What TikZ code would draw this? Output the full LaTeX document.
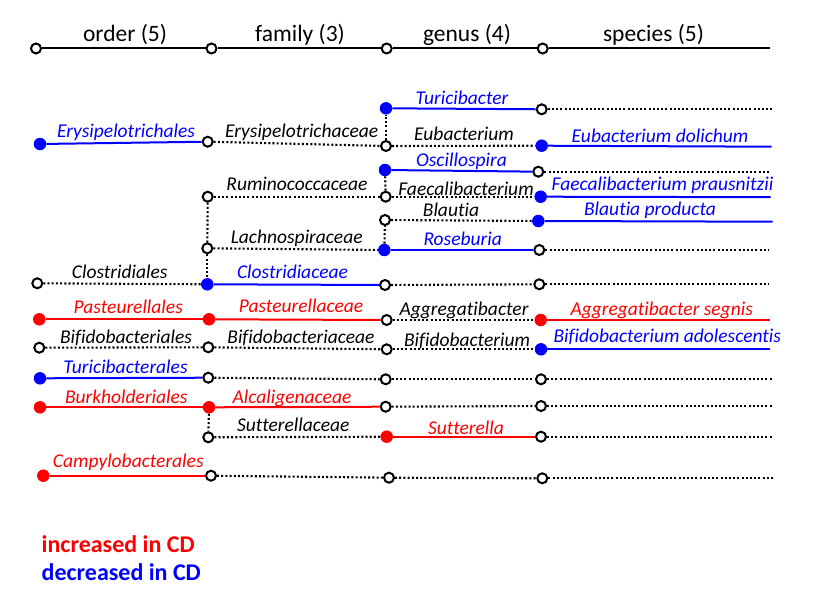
\documentclass[tikz,border=0pt]{standalone}
\usepackage{fontspec}
\setmainfont{Carlito}[Ligatures=NoCommon]
\definecolor{cb}{RGB}{0,0,255}
\definecolor{cr}{RGB}{255,0,0}
\begin{document}
\begin{tikzpicture}[x=1pt,y=-1pt,
  op/.style={circle, draw=black, fill=white, line width=2pt, inner sep=0pt, minimum size=10pt},
  fb/.style={circle, fill=cb, inner sep=0pt, minimum size=12.5pt},
  fr/.style={circle, fill=cr, inner sep=0pt, minimum size=12.5pt},
  lb/.style={line width=2pt, draw=cb},
  lr/.style={line width=2pt, draw=cr},
  lk/.style={line width=2pt, draw=black},
  dt/.style={line width=2.1pt, draw=black, dash pattern=on 2pt off 2.2pt},
  lab/.style={font=\fontsize{19.5}{20}\selectfont\itshape, anchor=base, inner sep=0pt},
  hd/.style={font=\fontsize{23.5}{24}\selectfont, anchor=base, inner sep=0pt},
  lg/.style={font=\fontsize{24}{25}\selectfont\bfseries, anchor=base west, inner sep=0pt}]
\useasboundingbox (0,0) rectangle (828,602);
% header
\node[op] (h1) at (36,48.5) {};
\node[op] (h2) at (211.5,48.5) {};
\node[op] (h3) at (386.7,48.5) {};
\node[op] (h4) at (542.7,48.5) {};
\coordinate (h5) at (770,48.5);
\draw[lk] (h1) -- (h2);
\draw[lk] (h2) -- (h3);
\draw[lk] (h3) -- (h4);
\draw[lk] (h4) -- (h5);
\node[hd] (t1) at (125,41.7) {order (5)};
\node[hd] (t2) at (300,41.7) {family (3)};
\node[hd] (t3) at (467,41.7) {genus (4)};
\node[hd] (t4) at (653.5,41.7) {species (5)};
% nodes
\node[fb] (g1) at (386,108.3) {};
\node[op] (s1) at (541.7,109.3) {};
\coordinate (e1) at (771.7,109.3);
\node[fb] (o2) at (40,144) {};
\node[op] (f2) at (207.7,141.7) {};
\node[op] (g2) at (386,146) {};
\node[fb] (s2) at (541.7,145.7) {};
\coordinate (e2) at (771.7,146.7);
\node[fb] (g3) at (385,170) {};
\node[op] (s3) at (538.3,171.7) {};
\coordinate (e3) at (770,171.7);
\node[op] (f4) at (207.7,196.7) {};
\node[op] (g4) at (385.7,196.7) {};
\node[fb] (s4) at (540.7,196.7) {};
\coordinate (e4) at (770.7,197.2);
\node[op] (g5) at (385,220) {};
\node[fb] (s5) at (538.3,221) {};
\coordinate (e5) at (772.7,221.7);
\node[op] (f6) at (207.3,248.3) {};
\node[fb] (g6) at (384.3,250) {};
\node[op] (s6) at (539.3,250) {};
\coordinate (e6) at (769.3,250);
\node[op] (o7) at (37.3,283.3) {};
\node[fb] (f7) at (207.3,284.3) {};
\node[op] (g7) at (385,285) {};
\node[op] (s7) at (539.3,284.3) {};
\coordinate (e7) at (769.3,284.3);
\node[fr] (o8) at (39.3,319.3) {};
\node[fr] (f8) at (209,319.3) {};
\node[op] (g8) at (386.7,320) {};
\node[fr] (s8) at (540.7,320) {};
\coordinate (e8) at (770,320);
\node[op] (o9) at (39.3,347.7) {};
\node[op] (f9) at (208.3,347.3) {};
\node[op] (g9) at (386.7,349.3) {};
\node[fb] (s9) at (541,349.3) {};
\coordinate (e9) at (770,349.3);
\node[fb] (o10) at (40,378.3) {};
\node[op] (f10) at (208.3,377.7) {};
\node[op] (g10) at (385.7,379.3) {};
\node[op] (s10) at (541,379.3) {};
\coordinate (e10) at (771.7,379.3);
\node[fr] (o11) at (40,407.3) {};
\node[fr] (f11) at (209,407.3) {};
\node[op] (g11) at (385.7,406.7) {};
\node[op] (s11) at (541,406) {};
\coordinate (e11) at (771.7,406);
\node[op] (f12) at (208.3,437.3) {};
\node[fr] (g12) at (386.7,436.7) {};
\node[op] (s12) at (541,436.7) {};
\coordinate (e12) at (771.7,436.7);
\node[fr] (o13) at (43.3,475.7) {};
\node[op] (f13) at (211,475.7) {};
\node[op] (g13) at (389,477.7) {};
\node[op] (s13) at (542.3,478.3) {};
\coordinate (e13) at (775,478.3);
% connectors
\draw[lb] (g1) -- (s1); \draw[dt] (s1) -- (e1);
\draw[lb] (o2) -- (f2); \draw[dt] (f2) -- (g2); \draw[dt] (g2) -- (g1);
\draw[dt] (g2) -- (s2); \draw[lb] (s2) -- (e2);
\draw[lb] (g3) -- (s3); \draw[dt] (s3) -- (e3);
\draw[dt] (f4) -- (g4); \draw[dt] (g4) -- (g3);
\draw[dt] (g4) -- (s4); \draw[lb] (s4) -- (e4);
\draw[dt] (g5) -- (s5); \draw[lb] (s5) -- (e5);
\draw[dt] (f6) -- (g6); \draw[dt] (g6) -- (g5);
\draw[lb] (g6) -- (s6); \draw[dt] (s6) -- (e6);
\draw[dt] (f4) -- (f6); \draw[dt] (f6) -- (f7);
\draw[dt] (o7) -- (f7); \draw[lb] (f7) -- (g7);
\draw[dt] (g7) -- (s7); \draw[dt] (s7) -- (e7);
\draw[lr] (o8) -- (f8); \draw[lr] (f8) -- (g8);
\draw[dt] (g8) -- (s8); \draw[lr] (s8) -- (e8);
\draw[dt] (o9) -- (f9); \draw[dt] (f9) -- (g9);
\draw[dt] (g9) -- (s9); \draw[lb] (s9) -- (e9);
\draw[lb] (o10) -- (f10); \draw[dt] (f10) -- (g10);
\draw[dt] (g10) -- (s10); \draw[dt] (s10) -- (e10);
\draw[lr] (o11) -- (f11); \draw[lr] (f11) -- (g11);
\draw[dt] (g11) -- (s11); \draw[dt] (s11) -- (e11);
\draw[dt] (f11) -- (f12); \draw[dt] (f12) -- (g12);
\draw[lr] (g12) -- (s12); \draw[dt] (s12) -- (e12);
\draw[lr] (o13) -- (f13); \draw[dt] (f13) -- (g13);
\draw[dt] (g13) -- (s13); \draw[dt] (s13) -- (e13);
% labels
\node[lab, cb] (l1) at (462,105) {Turicibacter};
\node[lab, cb] (l2) at (126,137.5) {Erysipelotrichales};
\node[lab] (l3) at (301.7,137.7) {Erysipelotrichaceae};
\node[lab] (l4) at (464,140) {Eubacterium};
\node[lab, cb] (l5) at (660,142.7) {Eubacterium dolichum};
\node[lab, cb] (l6) at (461.5,166.7) {Oscillospira};
\node[lab] (l7) at (297,190.7) {Ruminococcaceae};
\node[lab] (l8) at (466,195) {Faecalibacterium};
\node[lab, cb] (l9) at (662.5,190.7) {Faecalibacterium prausnitzii};
\node[lab] (l10) at (451,216) {Blautia};
\node[lab, cb] (l11) at (650,215) {Blautia producta};
\node[lab] (l12) at (296.7,243.3) {Lachnospiraceae};
\node[lab, cb] (l13) at (462.7,245.7) {Roseburia};
\node[lab] (l14) at (119.7,278.3) {Clostridiales};
\node[lab, cb] (l15) at (292.5,278.3) {Clostridiaceae};
\node[lab, cr] (l16) at (128.3,313.3) {Pasteurellales};
\node[lab, cr] (l17) at (301,312.7) {Pasteurellaceae};
\node[lab] (l18) at (464,315) {Aggregatibacter};
\node[lab, cr] (l19) at (661.7,315) {Aggregatibacter segnis};
\node[lab] (l20) at (126,343.3) {Bifidobacteriales};
\node[lab] (l21) at (301,343.3) {Bifidobacteriaceae};
\node[lab] (l22) at (467,346) {Bifidobacterium};
\node[lab, cb] (l23) at (667.3,342.3) {Bifidobacterium adolescentis};
\node[lab, cb] (l24) at (125.5,373.3) {Turicibacterales};
\node[lab, cr] (l25) at (126.3,403.3) {Burkholderiales};
\node[lab, cr] (l26) at (292,403.3) {Alcaligenaceae};
\node[lab] (l27) at (293.3,431.7) {Sutterellaceae};
\node[lab, cr] (l28) at (466,434.3) {Sutterella};
\node[lab, cr] (l29) at (128.3,467.7) {Campylobacterales};
% legend
\node[lg, cr] (k1) at (41.5,552.3) {increased in CD};
\node[lg, cb] (k2) at (41.5,580.7) {decreased in CD};
\end{tikzpicture}
\end{document}
